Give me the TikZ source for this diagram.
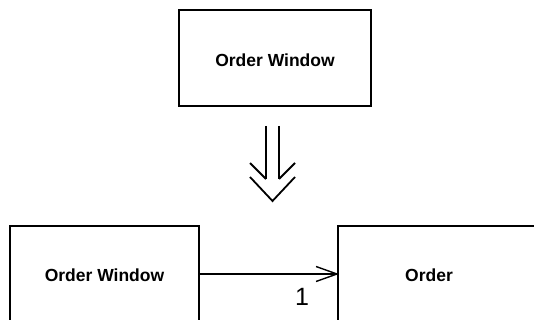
\documentclass[tikz,border=0pt]{standalone}
\usepackage{fontspec}
\setmainfont{Liberation Sans}
\usetikzlibrary{arrows.meta,calc}
\begin{document}
\begin{tikzpicture}[x=1pt,y=-1pt,
  boxstyle/.style={draw, line width=1.3pt, inner sep=0pt},
  lbl/.style={font=\bfseries\fontsize{17.5}{20}\selectfont},
  conn/.style={line width=1.2pt},
  barb/.style={line width=1.4pt, line join=miter},
  dbl/.style={line width=1.8pt, line cap=butt}]
\useasboundingbox[fill=white] (0,0) rectangle (534,320);
% top box
\draw[boxstyle] (179,10) rectangle (371,106);
\node[lbl] (tw) at (275,60) {Order Window};
% bottom boxes (open past the page edge)
\draw[boxstyle] (10,330) -- (10,226) -- (199,226) -- (199,330);
\draw[boxstyle] (338,330) -- (338,226) -- (560,226);
\node[lbl] (bw) at (104.5,275) {Order Window};
\node[lbl] (ord) at (429,275) {Order};
\coordinate (a) at (199,274);
\coordinate (b) at (337,274);
\draw[conn] (a) -- (b);
\draw[barb] ($(b)+(-21,-7.5)$) -- (b) -- ($(b)+(-21,7.5)$);
\node[font=\fontsize{25}{27}\selectfont] (one) at (302,297) {1};
% double arrow
\coordinate (l1) at (266,126);
\coordinate (l2) at (266,179);
\coordinate (r1) at (279,126);
\coordinate (r2) at (279,179);
\draw[dbl] (l1) -- (l2);
\draw[dbl] (r1) -- (r2);
\draw[dbl] (250,163) -- (l2);
\draw[dbl] (295,163) -- (r2);
\draw[dbl, line join=miter] (250,177) -- (272.5,201) -- (295,177);
\end{tikzpicture}
\end{document}
